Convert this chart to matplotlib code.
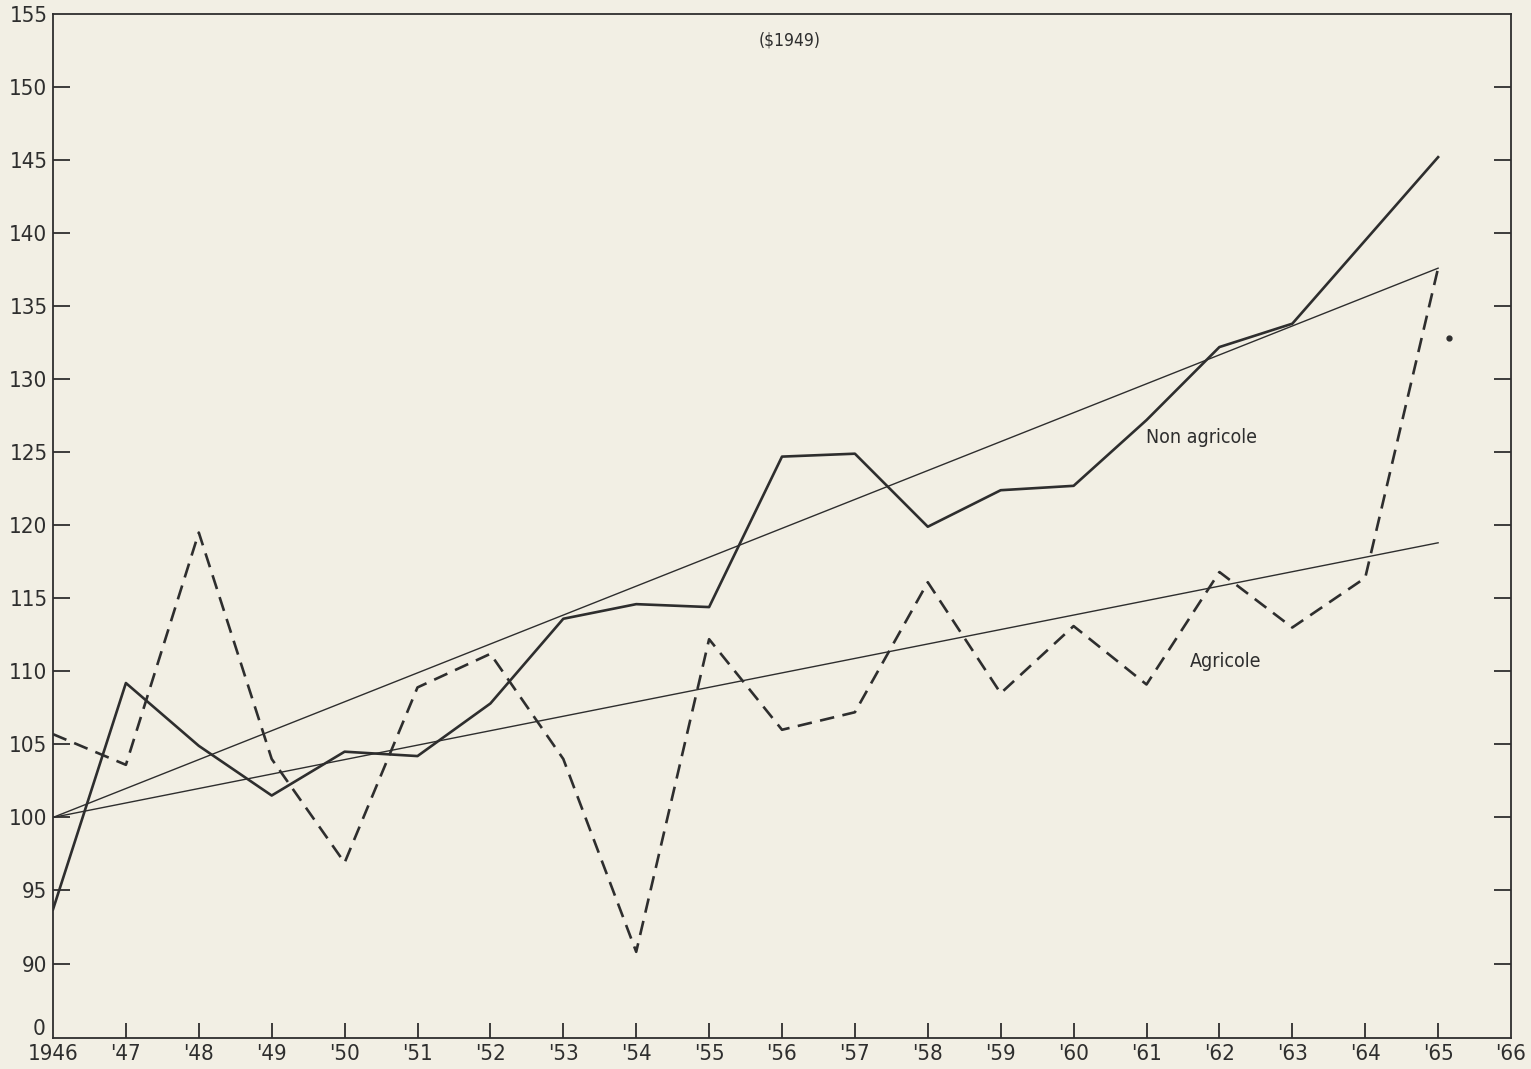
import matplotlib
matplotlib.use("Agg")
import matplotlib.pyplot as plt
from matplotlib import font_manager

years = list(range(1946, 1966))
non_agricole = [93.7, 109.2, 104.9, 101.5, 104.5, 104.2, 107.8, 113.6, 114.6, 114.4,
                124.7, 124.9, 119.9, 122.4, 122.7, 127.2, 132.2, 133.8, 139.5, 145.2]
agricole = [105.7, 103.6, 119.5, 104.0, 96.9, 108.9, 111.2, 104.0, 90.8, 112.2,
            106.0, 107.2, 116.1, 108.5, 113.1, 109.1, 116.8, 113.0, 116.4, 137.6]
trend_years = [1946, 1965]
trend_non_agricole = [100.0, 137.6]
trend_agricole = [100.0, 118.8]
stray_point_x = [1965.15]
stray_point_y = [132.8]

x_tick_values = list(range(1946, 1967))
x_tick_labels = ["1946"] + ["'%02d" % (y % 100) for y in range(1947, 1967)]
y_tick_values = list(range(90, 156, 5))
y_tick_labels = [str(v) for v in y_tick_values]

plt.rcParams["font.family"] = ["DejaVu Sans"]
plt.rcParams["font.stretch"] = "condensed"

bg = "#f2efe4"
ink = "#2e2e2e"
fig = plt.figure(figsize=(15.31, 10.69), dpi=100, facecolor=bg)
ax = fig.add_axes([53/1531, 31/1069, (1511-53)/1531, (1038-14)/1069])
ax.set_facecolor(bg)

ax.plot(years, non_agricole, color=ink, lw=1.9)
ax.plot(years, agricole, color=ink, lw=1.9, dashes=(5.5, 3.2))
ax.plot(trend_years, trend_non_agricole, color=ink, lw=1.0)
ax.plot(trend_years, trend_agricole, color=ink, lw=1.0)
ax.plot(stray_point_x, stray_point_y, "o", color=ink, ms=3.5)

ax.set_xlim(1946, 1966)
ax.set_ylim(84.9, 155)

ax.set_xticks(x_tick_values)
ax.set_xticklabels(x_tick_labels)
ax.set_yticks(y_tick_values)
ax.set_yticklabels(y_tick_labels)
ax.tick_params(axis="x", direction="in", length=11, width=1.3, colors=ink, labelsize=16, pad=4)
ax.tick_params(axis="y", direction="in", length=12, width=1.3, colors=ink, labelsize=16, pad=4,
               right=True)
ax.yaxis.get_major_ticks()[-1].tick1line.set_visible(False)
ax.yaxis.get_major_ticks()[-1].tick2line.set_visible(False)
ax.xaxis.get_major_ticks()[0].tick1line.set_visible(False)
ax.xaxis.get_major_ticks()[-1].tick1line.set_visible(False)
ax.text(-0.005, 85.5, "0", transform=ax.get_yaxis_transform(), ha="right", va="center",
        fontsize=16, color=ink)

for s in ax.spines.values():
    s.set_color(ink)
    s.set_linewidth(1.3)

ax.text(1961.0, 126.0, "Non agricole", fontsize=14, color=ink, ha="left", va="center")
ax.text(1961.6, 110.7, "Agricole", fontsize=14, color=ink, ha="left", va="center")
ax.text(1956.1, 153.2, "($1949)", fontsize=12.5, color=ink, ha="center", va="center")

fig.savefig("out.png", dpi=100, facecolor=bg)
